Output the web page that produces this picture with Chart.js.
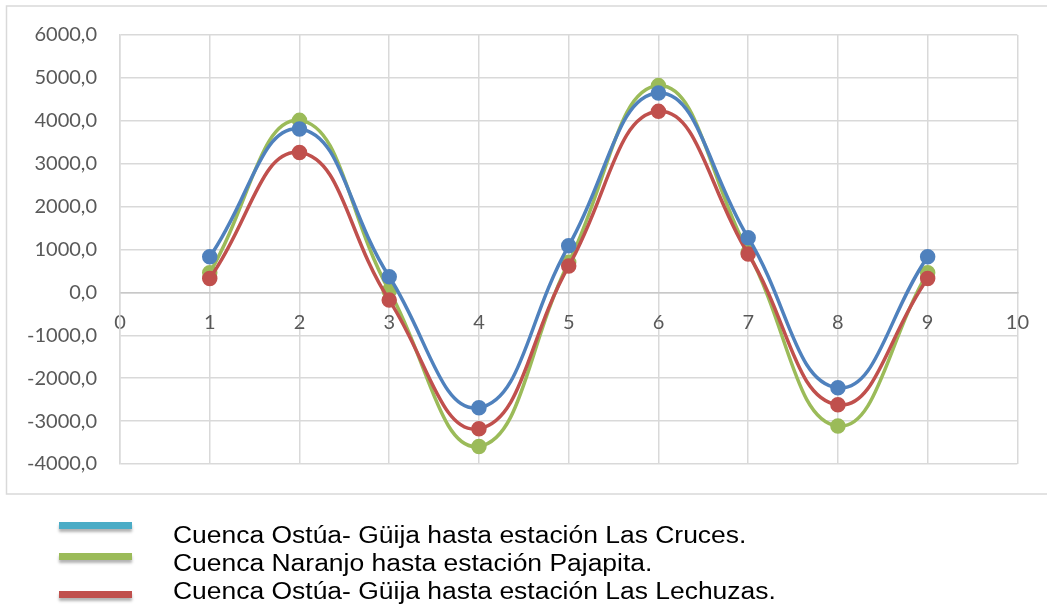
<!DOCTYPE html>
<html>
<head>
<meta charset="utf-8">
<script src="https://cdn.jsdelivr.net/npm/chart.js@4.4.1/dist/chart.umd.min.js"></script>
<style>
  html, body { margin: 0; padding: 0; background: #fff; }
  #wrap { position: relative; width: 1047px; height: 609px; overflow: hidden; }
  #c { position: absolute; left: 0; top: 0; }
  .leg { position: absolute; left: 0; top: 0; font-family: "Liberation Sans", Arial, sans-serif; font-size: 23px; color: #000; }
  .leg .ln { position: absolute; left: 59px; width: 73px; height: 7px; box-shadow: 0 3px 3px rgba(0,0,0,0.3); }
  .leg .tx { position: absolute; left: 173px; white-space: nowrap; line-height: 28px; transform: scaleX(1.15); transform-origin: 0 0; }
</style>
</head>
<body>
<div id="wrap">
  <canvas id="c" width="1047" height="609"></canvas>
  <div class="leg" id="legend"></div>
</div>
<script>
// --- data ---
const xValues = [1, 2, 3, 4, 5, 6, 7, 8, 9];
const lasCruces = [830, 3810, 365, -2690, 1085, 4650, 1275, -2225, 830];
const lasLechuzas = [325, 3260, -180, -3180, 615, 4220, 895, -2620, 325];
const pajapita = [460, 4010, 40, -3590, 700, 4820, 935, -3115, 460];

const seriesNames = [
  "Cuenca Ostúa- Güija hasta estación Las Cruces.",
  "Cuenca Naranjo hasta estación Pajapita.",
  "Cuenca Ostúa- Güija hasta estación Las Lechuzas."
];
const legendColors = ["#4BACC6", "#9BBB59", "#C0504D"];

const yTicksMin = -4000;
const yTicksMax = 6000;
const yStep = 1000;
const xTicksMin = 0;
const xTicksMax = 10;

const toPoints = (vals) => vals.map((v, i) => ({ x: xValues[i], y: v }));

function makeSet(label, vals, color) {
  return {
    label: label,
    data: toPoints(vals),
    borderColor: color,
    backgroundColor: color,
    pointBackgroundColor: color,
    pointBorderColor: color,
    borderWidth: 3.5,
    pointRadius: 6,
    tension: 0.45,
    fill: false,
  };
}

// outer frame like the Excel chart area
const framePlugin = {
  id: "frame",
  beforeDraw(chart) {
    const ctx = chart.ctx;
    ctx.save();
    ctx.strokeStyle = "#D9D9D9";
    ctx.lineWidth = 1.5;
    ctx.strokeRect(6.5, 6, 1060, 488);
    ctx.restore();
  },
};

const tickFont = { family: "Lato, 'Open Sans', sans-serif", size: 20 };

new Chart(document.getElementById("c"), {
  type: "line",
  data: {
    datasets: [
      makeSet(seriesNames[0], lasCruces, "#4F81BD"),
      makeSet(seriesNames[2], lasLechuzas, "#C0504D"),
      makeSet(seriesNames[1], pajapita, "#9BBB59"),
    ],
  },
  options: {
    responsive: false,
    animation: false,
    layout: { padding: { left: 0, top: 35, right: 28, bottom: 145 } },
    plugins: { legend: { display: false }, tooltip: { enabled: false } },
    scales: {
      x: {
        type: "linear",
        min: xTicksMin,
        max: xTicksMax,
        position: { y: 0 },
        ticks: { stepSize: 1, color: "#595959", font: tickFont, padding: 18, maxRotation: 0 },
        grid: { color: "#D9D9D9", lineWidth: 1.5, drawTicks: false },
        border: { color: "#C8C8C8", width: 1.5 },
      },
      y: {
        min: yTicksMin,
        max: yTicksMax,
        afterFit: (scale) => { scale.width = 120; },
        ticks: {
          stepSize: yStep,
          color: "#595959",
          font: tickFont,
          padding: 23,
          callback: (v) => v.toFixed(1).replace(".", ","),
        },
        grid: { color: "#D9D9D9", lineWidth: 1.5, drawTicks: false },
        border: { color: "#D9D9D9", width: 1.5 },
      },
    },
  },
  plugins: [framePlugin],
});

// --- legend below the chart box ---
const legend = document.getElementById("legend");
const lineTop = [522, 553, 591];
const textTop = [521, 549, 577];
seriesNames.forEach((name, i) => {
  const ln = document.createElement("div");
  ln.className = "ln";
  ln.style.top = lineTop[i] + "px";
  ln.style.background = legendColors[i];
  const tx = document.createElement("div");
  tx.className = "tx";
  tx.style.top = textTop[i] + "px";
  tx.textContent = name;
  legend.appendChild(ln);
  legend.appendChild(tx);
});
</script>
</body>
</html>
